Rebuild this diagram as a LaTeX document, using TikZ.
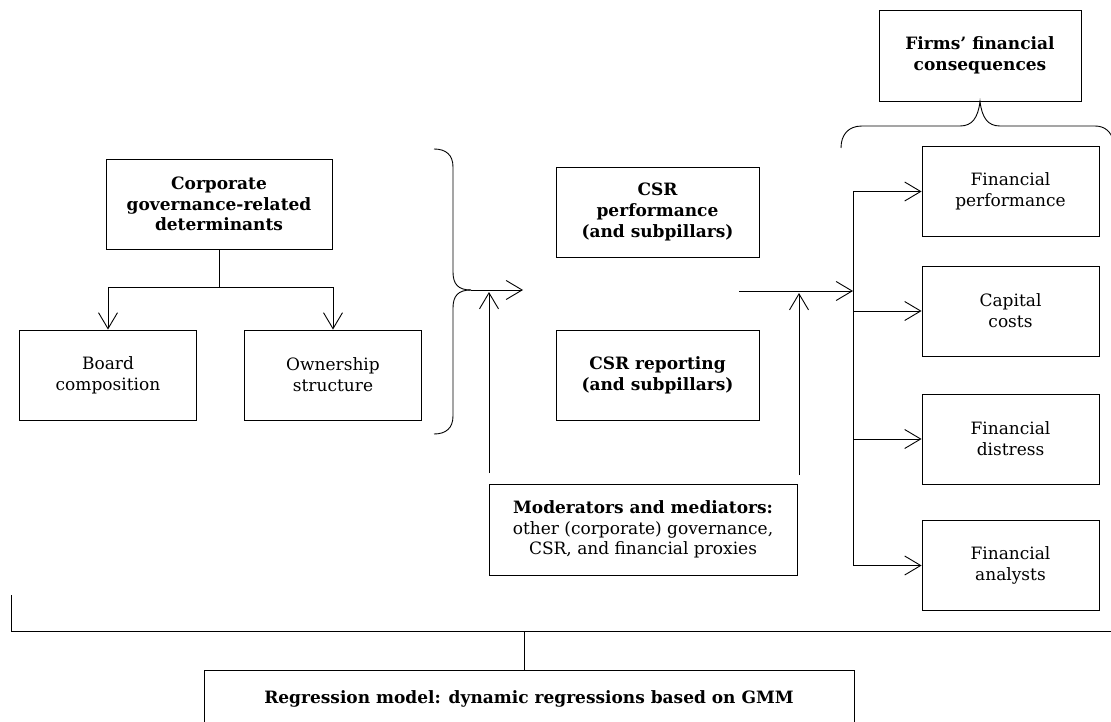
\documentclass[tikz,border=0pt]{standalone}
\usepackage{fontspec}
\setmainfont{DejaVu Serif}
\usetikzlibrary{arrows.meta}
\begin{document}
\begin{tikzpicture}[x=1pt,y=-1pt, line width=0.9pt,
  box/.style={draw, align=center, inner sep=2pt, font=\fontsize{17}{20.7}\selectfont},
  bbox/.style={box, font=\fontsize{17}{20.7}\selectfont\bfseries},
  sbox/.style={box, minimum width=177pt, minimum height=90pt},
  arr/.style={-{Straight Barb[length=16pt,width=19pt,line width=0.9pt]}},
]
\useasboundingbox (0,0) rectangle (1111,722);
\clip (0,0) rectangle (1111,722);
% nodes
\node (corp) [bbox, minimum width=226pt, minimum height=90pt] at (219,204) {Corporate\\governance-related\\determinants};
\node (board) [sbox] at (108,375) {Board\\composition};
\node (own) [sbox] at (333,375) {Ownership\\structure};
\node (csrp) [bbox, minimum width=203pt, minimum height=90pt] at (657.5,212) {CSR\\performance\\(and subpillars)};
\node (csrr) [bbox, minimum width=203pt, minimum height=90pt] at (657.5,375) {CSR reporting\\(and subpillars)};
\node (mod) [box, minimum width=308pt, minimum height=91pt] at (643,529.5) {\textbf{Moderators and mediators:}\\other (corporate) governance,\\CSR, and financial proxies};
\node (firms) [bbox, minimum width=202pt, minimum height=91pt] at (980,55.5) {Firms’ financial\\consequences};
\node (fp) [sbox] at (1010.5,191.5) {Financial\\performance};
\node (cc) [sbox] at (1010.5,311) {Capital\\costs};
\node (fd) [sbox] at (1010.5,439) {Financial\\distress};
\node (fa) [sbox] at (1010.5,565.5) {Financial\\analysts};
\node (reg) [draw, anchor=north, minimum width=650pt, inner sep=0pt, text height=33pt, text depth=60pt, font=\fontsize{17}{20.7}\selectfont\bfseries] at (529,670) {Regression model: dynamic regressions based on GMM};
% coordinates
\coordinate (sp) at (219,287);
\coordinate (btip) at (471,290);
\coordinate (jin) at (523,290);
\coordinate (m1) at (489,473);
\coordinate (j1) at (489,292);
\coordinate (csrout) at (739,291);
\coordinate (hub) at (853,291);
\coordinate (m2) at (799,475);
\coordinate (j2) at (799,293);
\coordinate (vtop) at (853,191.5);
\coordinate (vbot) at (853,565.5);
\coordinate (bl1) at (11,595);
\coordinate (bl2) at (11,631);
\coordinate (bl3) at (1115,631);
\coordinate (bm) at (524,631);
% connectors
\draw (corp.south) -- (sp);
\draw[arr] (sp) -| (board.north);
\draw[arr] (sp) -| (own.north);
% left brace
\draw (434,149) .. controls (446,149) and (453,155) .. (453,167) -- (453,272) .. controls (453,284) and (458,290) .. (btip);
\draw (btip) .. controls (458,290) and (453,296) .. (453,308) -- (453,416) .. controls (453,428) and (446,434) .. (434,434);
\draw[arr] (btip) -- (jin);
\draw[arr] (m1) -- (j1);
\draw[arr] (csrout) -- (hub);
\draw[arr] (m2) -- (j2);
\draw (vtop) -- (vbot);
\draw[arr] (fp.west -| hub) -- (fp.west);
\draw[arr] (cc.west -| hub) -- (cc.west);
\draw[arr] (fd.west -| hub) -- (fd.west);
\draw[arr] (fa.west -| hub) -- (fa.west);
% right brace
\draw (841,148) .. controls (841,135) and (848,126) .. (862,126) -- (960,126) .. controls (972,126) and (978,118) .. (firms.south) .. controls (982,118) and (988,126) .. (1000,126) -- (1095,126) .. controls (1105,126) and (1111,132) .. (1113,140);
% bottom
\draw (bl1) -- (bl2) -- (bl3);
\draw (bm) -- (bm |- reg.north);
\end{tikzpicture}
\end{document}
